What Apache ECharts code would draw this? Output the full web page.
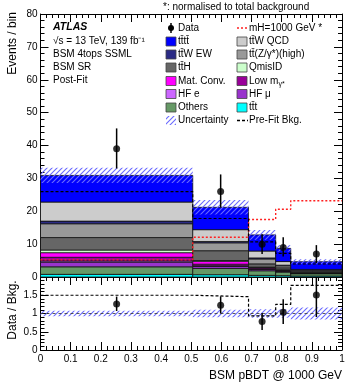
<!DOCTYPE html>
<html>
<head>
<meta charset="utf-8">
<script src="https://cdn.jsdelivr.net/npm/echarts@6/dist/echarts.min.js"></script>
<style>
    html, body { margin: 0; padding: 0; background: #fff; }
    #chart { width: 357px; height: 385px; }
</style>
</head>
<body>
<div id="chart"></div>
<script>
// bin edges of BSM pBDT
var binEdges = [0, 0.505, 0.69, 0.78, 0.83, 1.0];

// observed data with error bar ends
var dataValues = [39, 26, 10, 9, 7];
var dataErrHigh = [45.2, 31.2, 13.0, 12.1, 9.7];
var dataErrLow = [33.0, 21.2, 7.0, 6.2, 4.2];

// post-fit background stack, bottom -> top
var ttt = [0.8, 0.7, 0.5, 0.4, 0.3];
var others = [2.3, 1.9, 1.4, 1.1, 0.7];
var hfMu = [1.4, 0.6, 0.4, 0.2, 0.1];
var hfE = [0.4, 0.2, 0.1, 0.1, 0.05];
var lowMgamma = [1.1, 0.5, 0.3, 0.2, 0.05];
var matConv = [1.4, 0.9, 0.2, 0.1, 0.05];
var qmisId = [0.8, 0.2, 0.1, 0.1, 0.05];
var ttH = [3.8, 3.0, 1.0, 0.6, 0.3];
var ttZhigh = [4.2, 2.4, 1.5, 0.6, 0.3];
var ttWew = [0.8, 0.4, 0.3, 0.2, 0.1];
var ttWqcd = [5.8, 3.6, 2.1, 1.1, 0.3];
var tttt = [8.1, 6.8, 4.9, 4.0, 2.35];

var bkgUncert = [2.3, 2.2, 1.5, 1.0, 0.75];
var preFitBkg = [26, 17.8, 10.7, 7.2, 3.95];
var signalMH1000 = [5.2, 12.1, 17.5, 20.6, 23.2];

var FONT = '"Liberation Sans", Arial, Helvetica, sans-serif';

(function () {
    var chart = echarts.init(document.getElementById('chart'), null, {renderer: 'canvas'});

    var hatch = (function () {
        var c = document.createElement('canvas');
        c.width = 5;
        c.height = 5;
        var ctx = c.getContext('2d');
        ctx.strokeStyle = '#6a6aff';
        ctx.lineWidth = 1.1;
        ctx.beginPath();
        ctx.moveTo(0, 5); ctx.lineTo(5, 0);
        ctx.moveTo(-1, 1); ctx.lineTo(1, -1);
        ctx.moveTo(4, 6); ctx.lineTo(6, 4);
        ctx.stroke();
        return {image: c, repeat: 'repeat'};
    })();

    var stack = [
        {name: 'ttt', list: ttt, color: '#00ffff'},
        {name: 'Others', list: others, color: '#669966'},
        {name: 'HF mu', list: hfMu, color: '#9933cc'},
        {name: 'HF e', list: hfE, color: '#cc66ff'},
        {name: 'Low m', list: lowMgamma, color: '#990099'},
        {name: 'Mat. Conv.', list: matConv, color: '#ff00ff'},
        {name: 'QmisID', list: qmisId, color: '#ccffcc'},
        {name: 'ttH', list: ttH, color: '#666666'},
        {name: 'ttZ', list: ttZhigh, color: '#999999'},
        {name: 'ttW EW', list: ttWew, color: '#2b2b85'},
        {name: 'ttW QCD', list: ttWqcd, color: '#cccccc'},
        {name: 'tttt', list: tttt, color: '#0000ff'}
    ];

    var nBins = dataValues.length;
    var totals = [];
    var series = [];
    var i, k;
    for (i = 0; i < nBins; i++) {
        totals.push(0);
    }

    function boxRender(fill, stroke) {
        return function (params, api) {
            var b = api.value(0);
            var p0 = api.coord([binEdges[b], api.value(2)]);
            var p1 = api.coord([binEdges[b + 1], api.value(1)]);
            return {
                type: 'rect',
                shape: {x: p0[0], y: p0[1], width: p1[0] - p0[0], height: p1[1] - p0[1]},
                style: stroke ? {fill: fill, stroke: '#111', lineWidth: 0.8} : {fill: fill}
            };
        };
    }

    for (k = 0; k < stack.length; k++) {
        var comp = stack[k];
        var items = [];
        for (i = 0; i < nBins; i++) {
            items.push([i, totals[i], totals[i] + comp.list[i]]);
            totals[i] += comp.list[i];
        }
        series.push({
            name: comp.name,
            type: 'custom',
            xAxisIndex: 0,
            yAxisIndex: 0,
            encode: {x: 0, y: [1, 2]},
            renderItem: boxRender(comp.color, true),
            data: items,
            silent: true
        });
    }

    // uncertainty bands
    var bandUp = [], bandRatio = [];
    for (i = 0; i < nBins; i++) {
        bandUp.push([i, totals[i] - bkgUncert[i], totals[i] + bkgUncert[i]]);
        var r = bkgUncert[i] / totals[i];
        bandRatio.push([i, 1 - r, 1 + r]);
    }
    series.push({
        type: 'custom', xAxisIndex: 0, yAxisIndex: 0, encode: {x: 0, y: [1, 2]},
        renderItem: boxRender(hatch, false), data: bandUp, silent: true, z: 3
    });
    series.push({
        type: 'custom', xAxisIndex: 2, yAxisIndex: 2, encode: {x: 0, y: [1, 2]},
        renderItem: boxRender(hatch, false), data: bandRatio, silent: true, z: 3
    });

    // step lines
    function stepLine(values, scale) {
        var pts = [];
        for (var j = 0; j < values.length; j++) {
            var v = scale ? scale[j] / values[j] : values[j];
            pts.push([binEdges[j], v]);
            pts.push([binEdges[j + 1], v]);
        }
        return pts;
    }
    series.push({
        type: 'line', xAxisIndex: 0, yAxisIndex: 0, data: stepLine(signalMH1000),
        showSymbol: false, silent: true, z: 4,
        lineStyle: {color: '#ff2020', width: 1.4, type: [2, 2]}
    });
    series.push({
        type: 'line', xAxisIndex: 0, yAxisIndex: 0, data: stepLine(preFitBkg),
        showSymbol: false, silent: true, z: 4,
        lineStyle: {color: '#000', width: 1.2, type: [3, 2]}
    });
    series.push({
        type: 'line', xAxisIndex: 2, yAxisIndex: 2, data: stepLine(preFitBkg, dataValues),
        showSymbol: false, silent: true, z: 4,
        lineStyle: {color: '#000', width: 1.2, type: [3, 2]}
    });
    series.push({
        type: 'line', xAxisIndex: 2, yAxisIndex: 2, data: [[0, 1], [1, 1]],
        showSymbol: false, silent: true, z: 4,
        lineStyle: {color: '#333', width: 0.8, type: [3, 3]}
    });

    // data points and error bars
    var dataPts = [], dataErr = [], ratioPts = [], ratioErr = [];
    for (i = 0; i < nBins; i++) {
        var xc = (binEdges[i] + binEdges[i + 1]) / 2;
        dataPts.push([xc, dataValues[i]]);
        dataErr.push([xc, dataErrLow[i], dataErrHigh[i]]);
        ratioPts.push([xc, dataValues[i] / totals[i]]);
        ratioErr.push([xc, dataErrLow[i] / totals[i], Math.min(dataErrHigh[i] / totals[i], 2)]);
    }
    function errRender(params, api) {
        var a = api.coord([api.value(0), api.value(1)]);
        var b = api.coord([api.value(0), api.value(2)]);
        return {
            type: 'line',
            shape: {x1: a[0], y1: a[1], x2: b[0], y2: b[1]},
            style: {stroke: '#000', lineWidth: 1.5}
        };
    }
    series.push({type: 'custom', xAxisIndex: 0, yAxisIndex: 0, encode: {x: 0, y: [1, 2]},
        renderItem: errRender, data: dataErr, silent: true, z: 5});
    series.push({type: 'custom', xAxisIndex: 2, yAxisIndex: 2, encode: {x: 0, y: [1, 2]},
        renderItem: errRender, data: ratioErr, silent: true, z: 5, clip: true});
    series.push({type: 'scatter', xAxisIndex: 0, yAxisIndex: 0, data: dataPts,
        symbolSize: 7, itemStyle: {color: '#000'}, silent: true, z: 6});
    series.push({type: 'scatter', xAxisIndex: 2, yAxisIndex: 2, data: ratioPts,
        symbolSize: 7, itemStyle: {color: '#000'}, silent: true, z: 6});

    function xAx(grid, pos, labels) {
        return {
            type: 'value', gridIndex: grid, position: pos, min: 0, max: 1, interval: 0.1,
            axisLine: {show: true, onZero: false, lineStyle: {color: '#000', width: 1}},
            axisTick: {show: true, inside: true, length: 8, lineStyle: {color: '#000'}},
            minorTick: {show: true, splitNumber: 5, length: 4, lineStyle: {color: '#000'}},
            axisLabel: {show: labels, color: '#000', fontFamily: FONT, fontSize: 10, margin: 4},
            splitLine: {show: false}
        };
    }
    function yAx(grid, pos, max, interval, minor, labels, fmt) {
        return {
            type: 'value', gridIndex: grid, position: pos, min: 0, max: max, interval: interval,
            axisLine: {show: true, onZero: false, lineStyle: {color: '#000', width: 1}},
            axisTick: {show: true, inside: true, length: 8, lineStyle: {color: '#000'}},
            minorTick: {show: true, splitNumber: minor, length: 4, lineStyle: {color: '#000'}},
            axisLabel: {show: labels, color: '#000', fontFamily: FONT, fontSize: 10, margin: 3,
                formatter: fmt},
            splitLine: {show: false}
        };
    }

    // legend drawn as graphic items
    var gfx = [];
    function txt(x, y, text, opts) {
        opts = opts || {};
        gfx.push({
            type: 'text', x: x, y: y, rotation: opts.rot || 0, z: 100,
            style: {
                text: text, fill: '#000', font: opts.font || ('10px ' + FONT),
                align: opts.align || 'left', verticalAlign: 'middle'
            }
        });
    }
    function box(x, y, fill) {
        gfx.push({type: 'rect', shape: {x: x, y: y - 4.5, width: 10, height: 9}, z: 100,
            style: {fill: fill, stroke: '#444', lineWidth: 0.8}});
    }
    function seg(x, y, color, dash) {
        gfx.push({type: 'line', shape: {x1: x, y1: y, x2: x + 11, y2: y}, z: 100,
            style: {stroke: color, lineWidth: 1.3, lineDash: dash}});
    }

    txt(163, 7, '*: normalised to total background', {font: '10px ' + FONT});
    txt(53, 27.5, 'ATLAS', {font: 'italic bold 10.5px ' + FONT});
    txt(53, 41.5, '\u221As = 13 TeV, 139 fb\u207B\u00B9');
    txt(53, 54.5, 'BSM 4tops SSML');
    txt(53, 67.5, 'BSM SR');
    txt(53, 80.5, 'Post-Fit');

    var rows = [28, 41.5, 54.5, 67.5, 81, 94, 107.5, 120.5];
    var lx = 166, rx = 237;
    gfx.push({type: 'line', shape: {x1: lx + 5, y1: rows[0] - 5, x2: lx + 5, y2: rows[0] + 5}, z: 100,
        style: {stroke: '#000', lineWidth: 1.5}});
    gfx.push({type: 'circle', shape: {cx: lx + 5, cy: rows[0], r: 3}, z: 100, style: {fill: '#000'}});
    txt(lx + 12, rows[0], 'Data');
    seg(rx, rows[0], '#ff2020', [2, 2]);
    txt(rx + 12, rows[0], 'mH=1000 GeV *');

    var legLeft = [['tt\u0304tt\u0304', '#0000ff'], ['tt\u0304W EW', '#2b2b85'], ['tt\u0304H', '#666666'],
        ['Mat. Conv.', '#ff00ff'], ['HF e', '#cc66ff'], ['Others', '#669966']];
    var legRight = [['tt\u0304W QCD', '#cccccc'], ['tt\u0304(Z/\u03B3*)(high)', '#999999'], ['QmisID', '#ccffcc'],
        ['', '#990099'], ['HF \u03BC', '#9933cc'], ['tt\u0304t', '#00ffff']];
    for (k = 0; k < legLeft.length; k++) {
        box(lx, rows[k + 1], legLeft[k][1]);
        txt(lx + 12, rows[k + 1], legLeft[k][0]);
        box(rx, rows[k + 1], legRight[k][1]);
        if (legRight[k][0]) {
            txt(rx + 12, rows[k + 1], legRight[k][0]);
        }
    }
    gfx.push({
        type: 'text', x: rx + 12, y: rows[4], z: 100,
        style: {
            text: 'Low m{s|\u03B3*}', fill: '#000', font: '10px ' + FONT, verticalAlign: 'middle',
            rich: {s: {fontSize: 7, fontFamily: FONT, padding: [6, 0, 0, 0]}}
        }
    });
    gfx.push({type: 'rect', shape: {x: lx, y: rows[7] - 4.5, width: 10, height: 9}, z: 100,
        style: {fill: hatch}});
    txt(lx + 12, rows[7], 'Uncertainty');
    seg(rx, rows[7], '#000', [3, 2]);
    txt(rx + 12, rows[7], 'Pre-Fit Bkg.');

    // axis titles
    txt(13, 12, 'Events / bin', {rot: Math.PI / 2, align: 'right', font: '12px ' + FONT});
    txt(13, 310, 'Data / Bkg.', {rot: Math.PI / 2, align: 'center', font: '12px ' + FONT});
    txt(342, 376, 'BSM pBDT @ 1000 GeV', {align: 'right', font: '12px ' + FONT});

    var option = {
        animation: false,
        backgroundColor: '#fff',
        grid: [
            {left: 40.5, top: 14, width: 301.5, height: 263},
            {left: 40.5, top: 277, width: 301.5, height: 73}
        ],
        xAxis: [
            xAx(0, 'bottom', false),
            xAx(0, 'top', false),
            xAx(1, 'bottom', true),
            xAx(1, 'top', false)
        ],
        yAxis: [
            yAx(0, 'left', 80, 10, 5, true),
            yAx(0, 'right', 80, 10, 5, false),
            yAx(1, 'left', 2, 0.5, 5, true, function (v) { return v === 2 ? '' : String(v); }),
            yAx(1, 'right', 2, 0.5, 5, false)
        ],
        graphic: gfx,
        series: series
    };
    chart.setOption(option);
})();
</script>
</body>
</html>
